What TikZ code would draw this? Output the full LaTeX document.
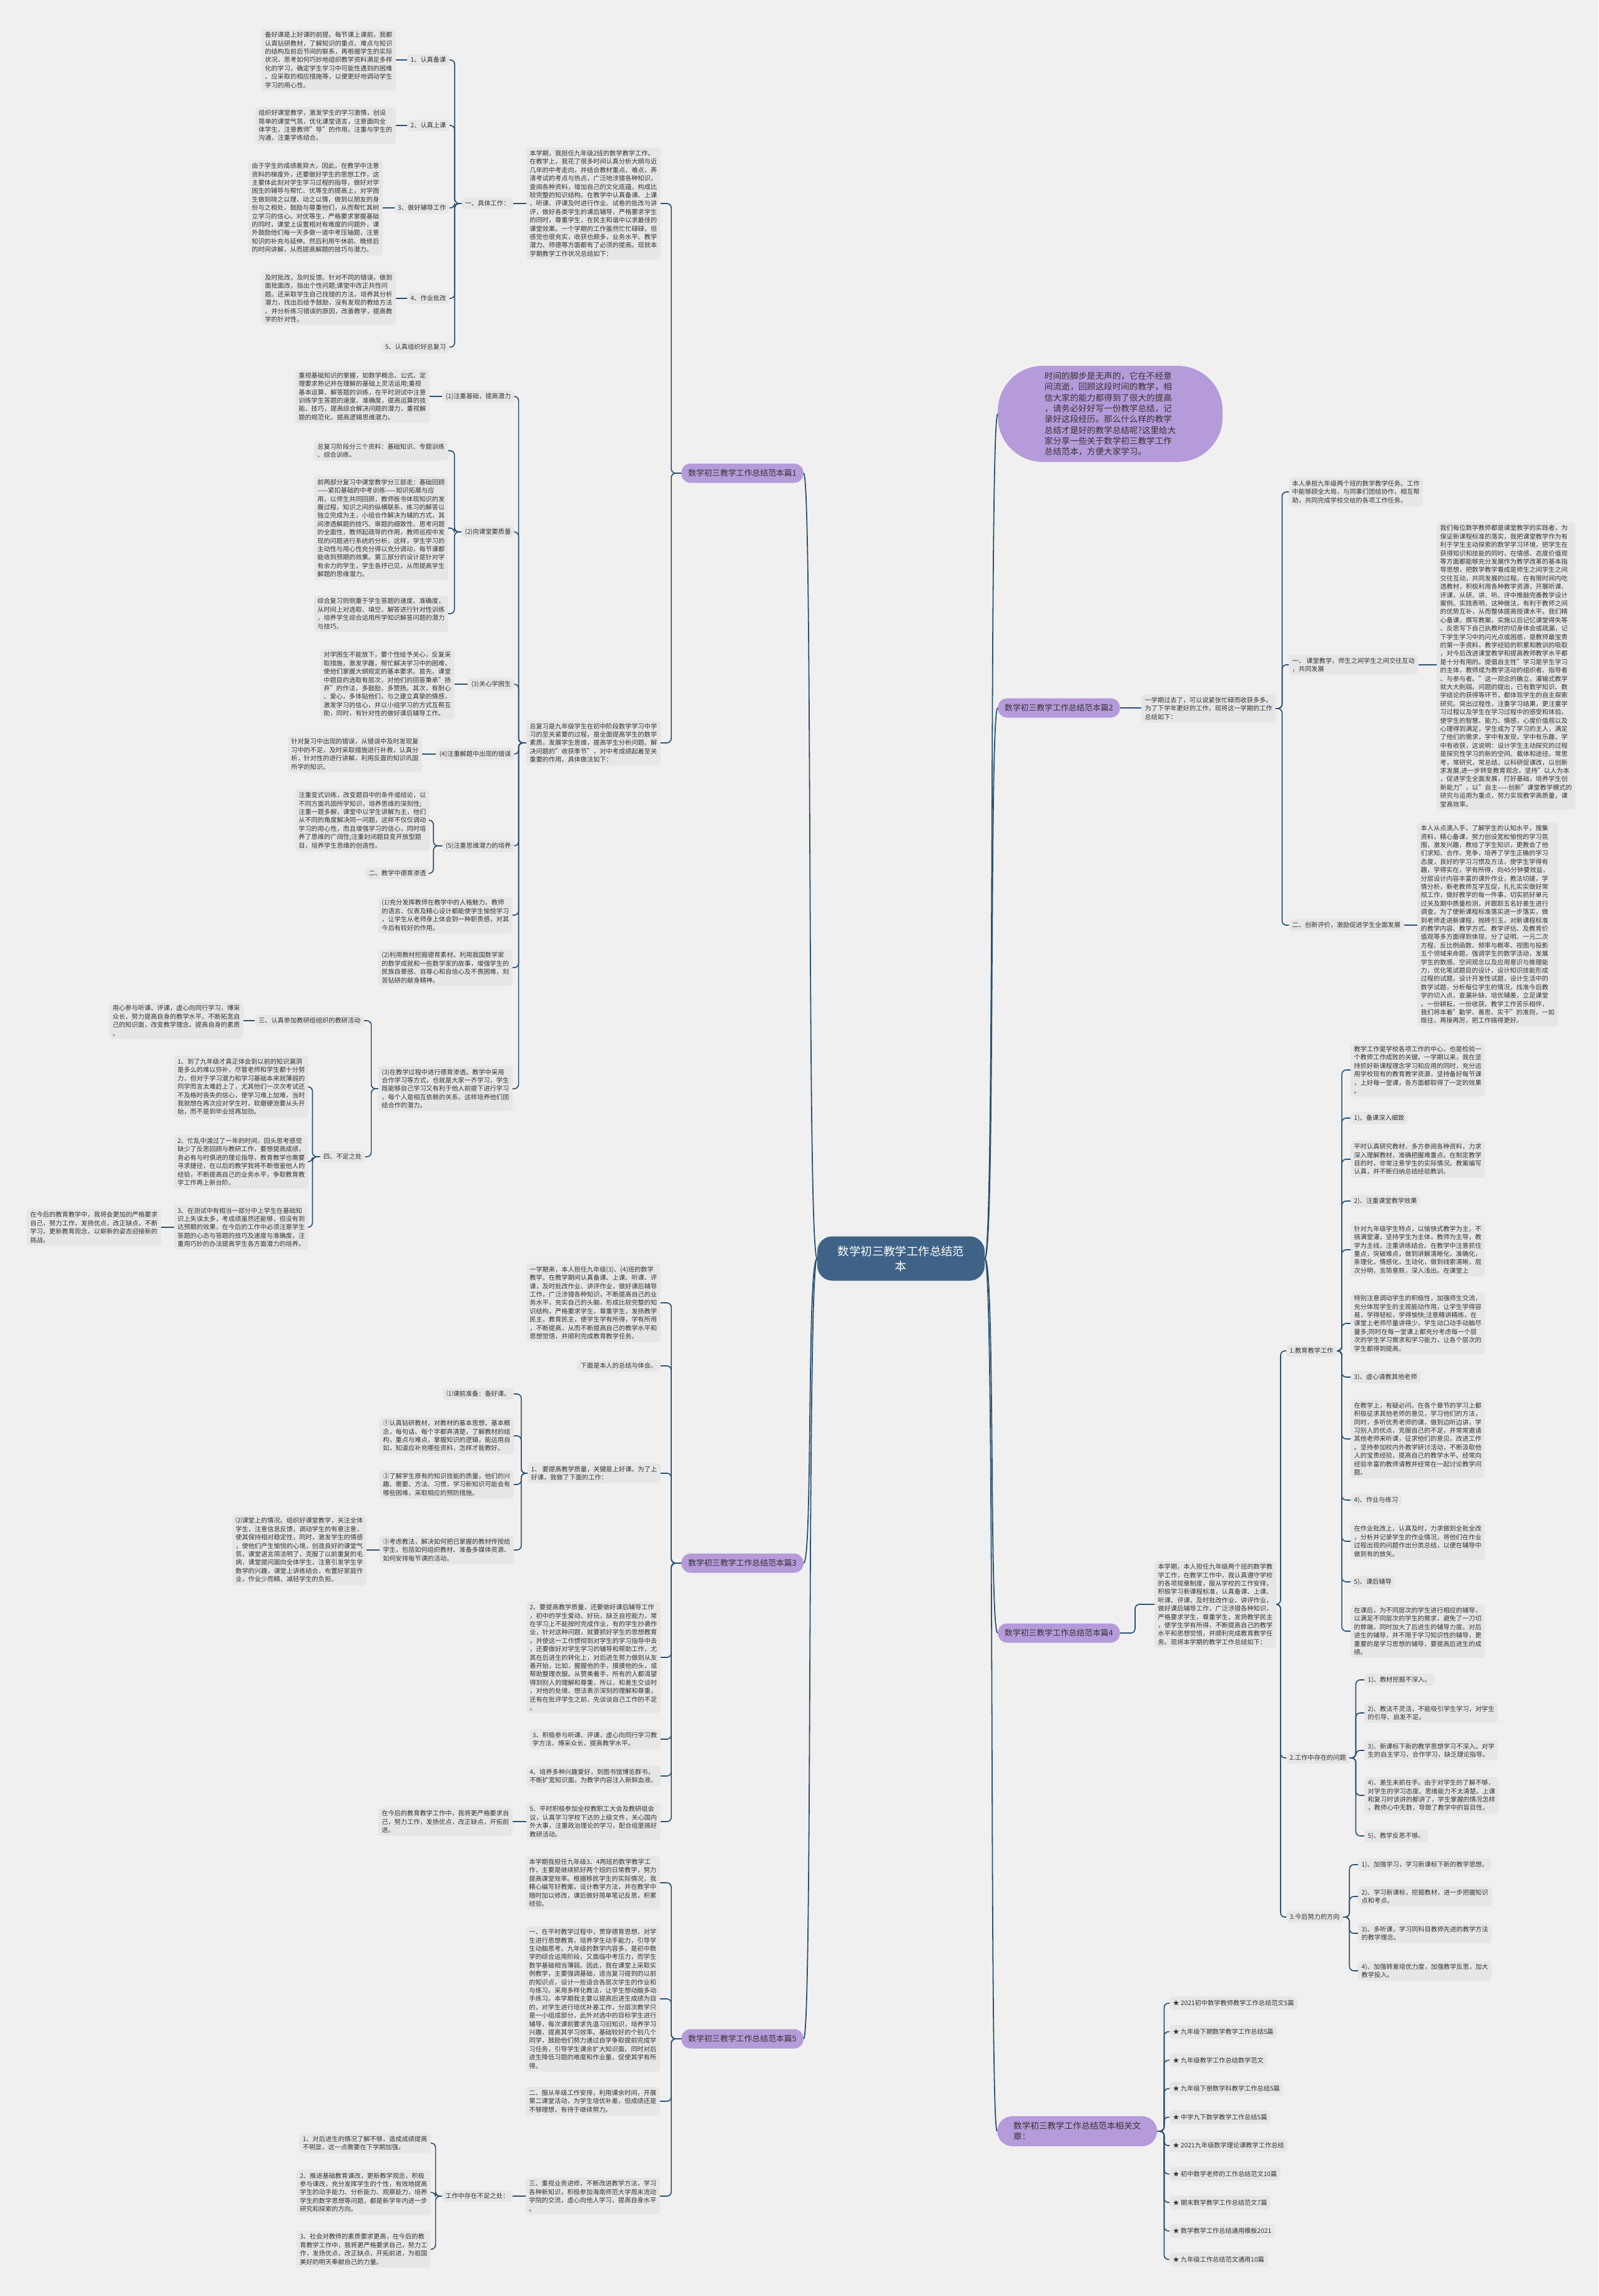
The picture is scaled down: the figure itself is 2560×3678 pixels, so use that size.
\documentclass[tikz,border=0pt]{standalone}
\usepackage{fontspec}
\setmainfont{Noto Sans CJK SC}
\definecolor{bgc}{HTML}{F0F0F0}
\definecolor{boxc}{HTML}{E6E6E6}
\definecolor{txtc}{HTML}{333333}
\definecolor{linec}{HTML}{2B5273}
\definecolor{purc}{HTML}{B59BDA}
\definecolor{rootc}{HTML}{3F6386}
\newcommand\fa{\fontsize{10.2}{13.4}\selectfont}
\newcommand\fb{\fontsize{12.8}{16}\selectfont}
\newcommand\fc{\fontsize{13.6}{17.3}\selectfont}
\newcommand\fr{\fontsize{18.4}{24}\selectfont}
\newcommand\Lcon[3]{\draw[conn] (#1.west) -- ++(-#3,0) |- (#2.east);}
\newcommand\Rcon[3]{\draw[conn] (#1.east) -- ++(#3,0) |- (#2.west);}
\newcommand\Lstr[2]{\draw[conn] (#1.west) -- (#1.west -| #2.east);}
\newcommand\Rstr[2]{\draw[conn] (#1.east) -- (#1.east -| #2.west);}
\begin{document}
\begin{tikzpicture}[x=1pt,y=-1pt,
 box/.style={fill=boxc, rounded corners=5pt, text=txtc, font=\fa, align=left, inner xsep=5.5pt, inner ysep=4.5pt},
 pill/.style={fill=purc, rounded corners=15pt, text=txtc, font=\fb, inner xsep=11pt, minimum height=31pt, align=left},
 conn/.style={draw=linec, line width=1.7pt, rounded corners=7pt},
 mainc/.style={draw=linec, line width=1.8pt}]
\fill[bgc] (0,0) rectangle (2560,3678);
\useasboundingbox (0,0) rectangle (2560,3678);

% ---------------- root ----------------
\node[fill=rootc, text=white, rounded corners=24pt, font=\fr, align=center, minimum width=268pt, minimum height=71pt] (root) at (1443,2016) {数学初三教学工作总结范\\本};

% ---------------- main branches ----------------
\node[pill, anchor=east] (p1) at (1287,758) {数学初三教学工作总结范本篇1};
\node[pill, anchor=east] (p3) at (1287,2504) {数学初三教学工作总结范本篇3};
\node[pill, anchor=east] (p5) at (1287,3266) {数学初三教学工作总结范本篇5};
\node[pill, anchor=west] (p2) at (1598,1134) {数学初三教学工作总结范本篇2};
\node[pill, anchor=west] (p4) at (1598,2616) {数学初三教学工作总结范本篇4};
\node[fill=purc, rounded corners=24pt, text=txtc, font=\fc, align=left, anchor=west, inner xsep=26pt, minimum height=48pt] (rel) at (1597,3414) {数学初三教学工作总结范本相关文\\章：};
\node[fill=purc, rounded corners=72pt, text=txtc, font=\fc, align=left, anchor=west, minimum width=360pt, minimum height=154pt] (intro) at (1598,663) {时间的脚步是无声的，它在不经意\\间流逝，回顾这段时间的教学，相\\信大家的能力都得到了很大的提高\\，请务必好好写一份教学总结，记\\录好这段经历。那么什么样的教学\\总结才是好的教学总结呢?这里给大\\家分享一些关于数学初三教学工作\\总结范本，方便大家学习。};

\draw[mainc] (root.west) .. controls (1292,2016) and (1302,758) .. (p1.east);
\draw[mainc] (root.west) .. controls (1292,2016) and (1302,2504) .. (p3.east);
\draw[mainc] (root.west) .. controls (1292,2016) and (1302,3266) .. (p5.east);
\draw[mainc] (root.east) .. controls (1594,2016) and (1584,663) .. (intro.west);
\draw[mainc] (root.east) .. controls (1594,2016) and (1584,1134) .. (p2.west);
\draw[mainc] (root.east) .. controls (1594,2016) and (1584,2616) .. (p4.west);
\draw[mainc] (root.east) .. controls (1594,2016) and (1584,3414) .. (rel.west);

% ================= 篇1 =================
\node[box, anchor=east] (a1) at (1058,326) {本学期，我担任九年级2班的数学教学工作。\\在教学上，我花了很多时间认真分析大纲与近\\几年的中考走向，并结合教材重点、难点，弄\\清考试的考点与热点，广泛地涉猎各种知识，\\查阅各种资料，增加自己的文化底蕴，构成比\\较完整的知识结构。在教学中认真备课、上课\\、听课、评课及时进行作业、试卷的批改与讲\\评，做好各类学生的课后辅导，严格要求学生\\的同时，尊重学生，在民主和谐中以求最佳的\\课堂效果。一个学期的工作虽然忙忙碌碌，但\\感觉也很充实，收获也颇多，业务水平、教学\\潜力、师德等方面都有了必须的提高。现就本\\学期教学工作状况总结如下：};
\node[box, anchor=east] (a2) at (1058,1190) {总复习是九年级学生在初中阶段数学学习中学\\习的至关紧要的过程，是全面提高学生的数学\\素质，发展学生思维，提高学生分析问题、解\\决问题的"收获季节"，对中考成绩起着至关\\重要的作用。具体做法如下：};
\Lcon{p1}{a1}{16} \Lcon{p1}{a2}{16}

\node[box, anchor=east] (yj) at (822,326) {一、具体工作：};
\Lstr{a1}{yj}
\node[box, anchor=east] (l1) at (720,96) {1、认真备课};
\node[box, anchor=east] (l2) at (720,201) {2、认真上课};
\node[box, anchor=east] (l3) at (720,333) {3、做好辅导工作};
\node[box, anchor=east] (l4) at (720,478) {4、作业批改};
\node[box, anchor=east] (l5) at (720,556) {5、认真组织好总复习};
\Lcon{yj}{l1}{11} \Lcon{yj}{l2}{11} \Lcon{yj}{l3}{11} \Lcon{yj}{l4}{11} \Lcon{yj}{l5}{11}
\node[box, anchor=east] (b1) at (634,96) {备好课是上好课的前提。每节课上课前，我都\\认真钻研教材，了解知识的重点、难点与知识\\的结构及前后节间的联系，再根据学生的实际\\状况，思考如何巧妙地组织教学资料满足多样\\化的学习，确定学生学习中可能性遇到的困难\\、应采取的相应措施等，以便更好地调动学生\\学习的用心性。};
\node[box, anchor=east] (b2) at (634,201) {组织好课堂教学，激发学生的学习激情，创设\\简单的课堂气氛，优化课堂语言，注意面向全\\体学生，注意教师"导"的作用，注重与学生的\\沟通，注重学练结合。};
\node[box, anchor=east] (b3) at (613,333) {由于学生的成绩差异大，因此，在教学中注意\\资料的梯度外，还要做好学生的思想工作，这\\主要体此刻对学生学习过程的指导，做好对学\\困生的辅导与帮忙、优等生的提高上，对学困\\生做到晓之以理，动之以情，做到以朋友的身\\份与之相处，鼓励与尊重他们，从而帮忙其树\\立学习的信心。对优等生，严格要求掌握基础\\的同时，课堂上设置相对有难度的问题外，课\\外鼓励他们每一天多做一道中考压轴题，注意\\知识的补充与延伸。然后利用午休前、晚修后\\的时间讲解，从而提高解题的技巧与潜力。};
\node[box, anchor=east] (b4) at (634,478) {及时批改，及时反馈。针对不同的错误，做到\\面批面改，指出个性问题;课堂中改正共性问\\题。还采取学生自己找错的方法，培养其分析\\潜力，找出后给予鼓励，没有发现的教给方法\\。并分析练习错误的原因，改善教学，提高教\\学的针对性。};
\Lstr{l1}{b1} \Lstr{l2}{b2} \Lstr{l3}{b3} \Lstr{l4}{b4}

\node[box, anchor=east] (k1) at (824,635) {(1)注重基础，提高潜力};
\node[box, anchor=east] (k2) at (824,852) {(2)向课堂要质量};
\node[box, anchor=east] (k3) at (824,1096) {(3)关心学困生};
\node[box, anchor=east] (k4) at (824,1208) {(4)注重解题中出现的错误};
\node[box, anchor=east] (k5) at (824,1355) {(5)注重思维潜力的培养};
\node[box, anchor=east] (m1) at (821,1466) {(1)充分发挥教师在教学中的人格魅力。教师\\的语言、仪表及精心设计都能使学生愉悦学习\\，让学生从老师身上体会到一种职责感，对其\\今后有较好的作用。};
\node[box, anchor=east] (m2) at (821,1550) {(2)利用教材挖掘德育素材。利用我国数学家\\的数学成就和一些数学家的故事，增强学生的\\民族自豪感、自尊心和自信心及不畏困难，刻\\苦钻研的献身精神。};
\node[box, anchor=east] (m3) at (821,1744) {(3)在教学过程中进行德育渗透。教学中采用\\合作学习等方式，也就是大家一齐学习，学生\\既能够自己学习又有利于他人前提下进行学习\\，每个人是相互依赖的关系，这样培养他们团\\结合作的潜力。};
\Lcon{a2}{k1}{12} \Lcon{a2}{k2}{12} \Lcon{a2}{k3}{12} \Lcon{a2}{k4}{12} \Lcon{a2}{k5}{12}
\Lcon{a2}{m1}{12} \Lcon{a2}{m2}{12} \Lcon{a2}{m3}{12}

\node[box, anchor=east] (c1) at (688,635) {重视基础知识的掌握，如数学概念、公式、定\\理要求熟记并在理解的基础上灵活运用;重视\\基本运算、解答题的训练，在平时测试中注意\\训练学生答题的速度、准确度，提高运算的技\\能、技巧，提高综合解决问题的潜力，重视解\\题的规范化，提高逻辑思维潜力。};
\Lstr{k1}{c1}
\node[box, anchor=east] (c2a) at (718,722) {总复习阶段分三个资料：基础知识、专题训练\\、综合训练。};
\node[box, anchor=east] (c2b) at (718,846) {前两部分复习中课堂教学分三部走：基础回顾\\——紧扣基础的中考训练——知识拓展与应\\用，以师生共同回顾，教师板书体现知识的发\\展过程，知识之间的纵横联系，练习的解答以\\独立完成为主，小组合作解决为辅的方式，其\\间渗透解题的技巧、审题的细致性、思考问题\\的全面性，教师起疏导的作用，教师巡视中发\\现的问题进行系统的分析，这样，学生学习的\\主动性与用心性充分得以充分调动，每节课都\\能收到预期的效果。第三部分的设计是针对学\\有余力的学生，学生各抒已见，从而提高学生\\解题的思维潜力。};
\node[box, anchor=east] (c2c) at (718,983) {综合复习则侧重于学生答题的速度、准确度，\\从时间上对选取、填空、解答进行针对性训练\\，培养学生综合运用所学知识解答问题的潜力\\与技巧。};
\Lcon{k2}{c2a}{11} \Lcon{k2}{c2b}{11} \Lcon{k2}{c2c}{11}
\node[box, anchor=east] (c3) at (728,1096) {对学困生不能放下，要个性给予关心，反复采\\取措施，激发学趣，帮忙解决学习中的困难，\\使他们掌握大纲规定的基本要求。首先，课堂\\中题目的选取有层次，对他们的回答秉承"扬\\弃"的作法，多鼓励，多赞扬。其次，有耐心\\、爱心，多体贴他们，与之建立真挚的情感，\\激发学习的信心，并以小组学习的方式互帮互\\助，同时，有针对性的做好课后辅导工作。};
\Lstr{k3}{c3}
\node[box, anchor=east] (c4) at (676,1208) {针对复习中出现的错误，从错误中及时发现复\\习中的不足，及时采取措施进行补救，认真分\\析，针对性的进行讲解，利用反面的知识巩固\\所学的知识。};
\Lstr{k4}{c4}
\node[box, anchor=east] (c5) at (688,1314) {注重变式训练，改变题目中的条件或结论，以\\不同方面巩固所学知识，培养思维的深刻性;\\注重一题多解，课堂中以学生讲解为主，他们\\从不同的角度解决同一问题，这样不仅仅调动\\学习的用心性，而且增强学习的信心，同时培\\养了思维的广阔性;注重封闭题目变开放型题\\目，培养学生思维的创造性。};
\node[box, anchor=east] (dy) at (688,1399) {二、教学中德育渗透};
\Lcon{k5}{c5}{14} \Lcon{k5}{dy}{14}

\node[box, anchor=east] (n1) at (583,1635) {三、认真参加教研组组织的教研活动};
\node[box, anchor=east] (n2) at (585,1853) {四、不足之处};
\Lcon{m3}{n1}{11} \Lcon{m3}{n2}{11}
\node[box, anchor=east] (n1c) at (390,1635) {用心参与听课、评课，虚心向同行学习，博采\\众长，努力提高自身的教学水平。不断拓宽自\\己的知识面，改变教学理念，提高自身的素质\\。};
\Lstr{n1}{n1c}
\node[box, anchor=east] (d1) at (494,1741) {1、到了九年级才真正体会到以前的知识漏洞\\是多么的难以弥补，尽管老师和学生都十分努\\力，但对于学习潜力和学习基础本来就薄弱的\\同学而言太难赶上了，尤其他们一次次考试还\\不及格时丧失的信心，使学习难上加难，当时\\我就想在再次应对学生时，软磨硬泡要从头开\\始，而不是到毕业班再加劲。};
\node[box, anchor=east] (d2) at (494,1861) {2、忙乱中渡过了一年的时间，回头思考感觉\\缺少了反思回顾与教研工作，要想提高成绩，\\务必有与时俱进的理论指导，教育教学也需要\\寻求捷径，在以后的教学我将不断借鉴他人的\\经验，不断提高自己的业务水平，争取教育教\\学工作再上新台阶。};
\node[box, anchor=east] (d3) at (494,1966) {3、在测试中有相当一部分中上学生在基础知\\识上失误太多，考成绩虽然还能够，但没有到\\达预期的效果，在今后的工作中必须注意学生\\答题的心态与答题的技巧及速度与准确度，注\\重用巧妙的办法提高学生各方面潜力的培养。};
\Lcon{n2}{d1}{12} \Lcon{n2}{d2}{12} \Lcon{n2}{d3}{12}
\node[box, anchor=east] (e1) at (258,1966) {在今后的教育教学中，我将会更加的严格要求\\自己，努力工作，发扬优点，改正缺点，不断\\学习，更新教育观念，以崭新的姿态迎接新的\\挑战。};
\Lstr{d3}{e1}

% ================= 篇3 =================
\node[box, anchor=east] (q1) at (1058,2087) {一学期来，本人担任九年级(3)、(4)班的数学\\教学。在教学期间认真备课、上课、听课、评\\课，及时批改作业、讲评作业，做好课后辅导\\工作，广泛涉猎各种知识，不断提高自己的业\\务水平，充实自己的头脑，形成比较完整的知\\识结构，严格要求学生，尊重学生，发扬教学\\民主，教育民主，使学生学有所得，学有所用\\，不断提高，从而不断提高自己的教学水平和\\思想觉悟，并顺利完成教育教学任务。};
\node[box, anchor=east] (q2) at (1058,2188) {下面是本人的总结与体会。};
\node[box, anchor=east] (q3) at (1058,2360) {1、 要提高教学质量，关键是上好课。为了上\\好课，我做了下面的工作：};
\node[box, anchor=east] (q4) at (1058,2655) {2、要提高教学质量，还要做好课后辅导工作\\，初中的学生爱动、好玩，缺乏自控能力，常\\在学习上不能按时完成作业，有的学生抄袭作\\业，针对这种问题，就要抓好学生的思想教育\\，并使这一工作惯彻到对学生的学习指导中去\\，还要做好对学生学习的辅导和帮助工作，尤\\其在后进生的转化上，对后进生努力做到从友\\善开始，比如，握握他的手，摸摸他的头，或\\帮助整理衣服。从赞美着手，所有的人都渴望\\得到别人的理解和尊重，所以，和差生交谈时\\，对他的处境、想法表示深刻的理解和尊重，\\还有在批评学生之前，先谈谈自己工作的不足\\。};
\node[box, anchor=east] (q5) at (1058,2786) {3、积极参与听课、评课，虚心向同行学习教\\学方法，博采众长，提高教学水平。};
\node[box, anchor=east] (q6) at (1058,2845) {4、培养多种兴趣爱好，到图书馆博览群书，\\不断扩宽知识面，为教学内容注入新鲜血液。};
\node[box, anchor=east] (q7) at (1058,2918) {5、平时积极参加全校教职工大会及教研组会\\议，认真学习学校下达的上级文件，关心国内\\外大事，注重政治理论的学习，配合组里搞好\\教研活动。};
\Lcon{p3}{q1}{16} \Lcon{p3}{q2}{16} \Lcon{p3}{q3}{16} \Lcon{p3}{q4}{16} \Lcon{p3}{q5}{16} \Lcon{p3}{q6}{16} \Lcon{p3}{q7}{16}
\node[box, anchor=east] (s1) at (823,2233) {⑴课前准备：备好课。};
\node[box, anchor=east] (s2) at (823,2300) {①认真钻研教材，对教材的基本思想、基本概\\念，每句话、每个字都弄清楚，了解教材的结\\构，重点与难点，掌握知识的逻辑，能运用自\\如，知道应补充哪些资料，怎样才能教好。};
\node[box, anchor=east] (s3) at (823,2378) {②了解学生原有的知识技能的质量，他们的兴\\趣、需要、方法、习惯，学习新知识可能会有\\哪些困难，采取相应的预防措施。};
\node[box, anchor=east] (s4) at (823,2483) {③考虑教法，解决如何把已掌握的教材传授给\\学生，包括如何组织教材、准备多媒体资源、\\如何安排每节课的活动。};
\Lcon{q3}{s1}{10} \Lcon{q3}{s2}{10} \Lcon{q3}{s3}{10} \Lcon{q3}{s4}{10}
\node[box, anchor=east] (s4c) at (587,2483) {⑵课堂上的情况。组织好课堂教学，关注全体\\学生，注意信息反馈，调动学生的有意注意，\\使其保持相对稳定性，同时，激发学生的情感\\，使他们产生愉悦的心境，创造良好的课堂气\\氛，课堂语言简洁明了，克服了以前重复的毛\\病，课堂提问面向全体学生，注意引发学生学\\数学的兴趣，课堂上讲练结合，布置好家庭作\\业，作业少而精，减轻学生的负担。};
\Lstr{s4}{s4c}
\node[box, anchor=east] (q7c) at (821,2918) {在今后的教育教学工作中，我将更严格要求自\\己，努力工作，发扬优点，改正缺点，开拓前\\进。};
\Lstr{q7}{q7c}

% ================= 篇5 =================
\node[box, anchor=east] (r1) at (1057,3016) {本学期我担任九年级3、4两班的数学教学工\\作，主要是继续抓好两个班的日常教学，努力\\提高课堂效率。根据移民学生的实际情况，我\\精心编写好教案，设计教学方法，并在教学中\\随时加以修改，课后做好简单笔记反思，积累\\经验。};
\node[box, anchor=east] (r2) at (1057,3202) {一、在平时教学过程中，贯穿德育思想，对学\\生进行思想教育，培养学生动手能力，引导学\\生动脑思考。九年级的数学内容多，是初中数\\学的综合运用阶段，又面临中考压力，而学生\\数学基础相当薄弱。因此，我在课堂上采取实\\例教学，主要强调基础，适当复习碰到的以前\\的知识点，设计一些适合各层次学生的作业和\\与练习。采用多样化教法，让学生想动脑多动\\手练习。本学期我主要以提高后进生成绩为目\\的，对学生进行培优补差工作，分层次教学只\\是一小组成部分，此外对选中的目标学生进行\\辅导，每次课前要求先温习旧知识，培养学习\\兴趣，提高其学习效率。基础较好的个别几个\\同学，鼓励他们努力通过自学争取提前完成学\\习任务，引导学生课余扩大知识面。同时对后\\进生降低习题的难度和作业量，促使其学有所\\得。};
\node[box, anchor=east] (r3) at (1057,3366) {二、服从年级工作安排，利用课余时间，开展\\第二课堂活动，为学生培优补差，但成绩还是\\不够理想，有待于继续努力。};
\node[box, anchor=east] (r4) at (1057,3518) {三、重视业务进修，不断改进教学方法，学习\\各种新知识，积极参加海南师范大学周末流动\\学院的交流，虚心向他人学习，提高自身水平\\。};
\Lcon{p5}{r1}{16} \Lcon{p5}{r2}{16} \Lcon{p5}{r3}{16} \Lcon{p5}{r4}{16}
\node[box, anchor=east] (r4c) at (821,3518) {工作中存在不足之处：};
\Lstr{r4}{r4c}
\node[box, anchor=east] (t1) at (690,3433) {1、对后进生的情况了解不够，造成成绩提高\\不明显，这一点需要在下学期加强。};
\node[box, anchor=east] (t2) at (690,3512) {2、推进基础教育课改，更新教学观念，积极\\参与课改，充分发挥学生的个性，有效地提高\\学生的动手能力、分析能力、观察能力，培养\\学生的数学思想等问题，都是新学年内进一步\\研究和探索的方向。};
\node[box, anchor=east] (t3) at (690,3603) {3、社会对教师的素质要求更高，在今后的教\\育教学工作中，我将更严格要求自己，努力工\\作，发扬优点，改正缺点，开拓前进，为祖国\\美好的明天奉献自己的力量。};
\Lcon{r4c}{t1}{10} \Lcon{r4c}{t2}{10} \Lcon{r4c}{t3}{10}

% ================= 篇2 =================
\node[box, anchor=west] (u0) at (1828,1135) {一学期过去了，可以说紧张忙碌而收获多多。\\为了下学年更好的工作，现将这一学期的工作\\总结如下：};
\Rstr{p2}{u0}
\node[box, anchor=west] (u1) at (2064,788) {本人承担九年级两个班的数学教学任务。工作\\中能够顾全大局，与同事们团结协作，相互帮\\助，共同完成学校交给的各项工作任务。};
\node[box, anchor=west] (u2) at (2064,1065) {一、 课堂教学，师生之间学生之间交往互动\\，共同发展};
\node[box, anchor=west] (u3) at (2064,1482) {二、创新评价，激励促进学生全面发展};
\Rcon{u0}{u1}{10} \Rcon{u0}{u2}{10} \Rcon{u0}{u3}{10}
\node[box, anchor=west] (v1) at (2301,1067) {我们每位数学教师都是课堂教学的实践者，为\\保证新课程标准的落实，我把课堂教学作为有\\利于学生主动探索的数学学习环境，把学生在\\获得知识和技能的同时，在情感、态度价值观\\等方面都能够充分发展作为教学改革的基本指\\导思想，把数学教学看成是师生之间学生之间\\交往互动，共同发展的过程。在有限时间内吃\\透教材，积极利用各种教学资源，开展听课、\\评课，从研、讲、听、评中推敲完善教学设计\\案例。实践表明，这种做法，有利于教师之间\\的优势互补，从而整体提高授课水平。我们精\\心备课，撰写教案，实施以后记忆课堂得失等\\、反思写下自己执教时的切身体会或疏漏，记\\下学生学习中的闪光点或困惑，是教师最宝贵\\的第一手资料，教学经验的积累和教训的吸取\\，对今后改进课堂教学和提高教师教学水平都\\是十分有用的。提倡自主性"学习是学生学习\\的主体，教师成为教学活动的组织者、指导者\\、与参与者。"这一观念的确立，灌输式教学\\就大大削弱。问题的提出，已有数学知识、数\\学结论的获得等环节，都体现学生的自主探索\\研究。突出过程性，注重学习结果，更注重学\\习过程以及学生在学习过程中的感受和体验。\\使学生的智慧、能力、情感，心度价值观以及\\心理得到满足，学生成为了学习的主人，满足\\了他们的需求，学中有发现，学中有乐趣，学\\中有收获，这说明：设计学生主动探究的过程\\是探究性学习的新的空间、载体和途径。常思\\考，常研究，常总结，以科研促课改，以创新\\求发展,进一步转变教育观念，坚持"以人为本\\，促进学生全面发展，打好基础，培养学生创\\新能力"，以"自主——创新"课堂教学模式的\\研究与运用为重点，努力实现教学高质量，课\\堂高效率。};
\Rstr{u2}{v1}
\node[box, anchor=west] (v2) at (2270,1481) {本人从点滴入手，了解学生的认知水平，搜集\\资料，精心备课，努力创设宽松愉悦的学习氛\\围，激发兴趣，教给了学生知识，更教会了他\\们求知、合作、竞争，培养了学生正确的学习\\态度，良好的学习习惯及方法，使学生学得有\\趣，学得实在，学有所得，向45分钟要效益，\\分层设计内容丰富的课外作业，教法切磋，学\\情分析，新老教师互学互促，扎扎实实做好常\\规工作，做好教学的每一件事，切实抓好单元\\过关及期中质量检测，并跟踪五名好差生进行\\调查。为了使新课程标准落实进一步落实，做\\到老师走进新课程，抛砖引玉，对新课程标准\\的教学内容、教学方式、教学评估、及教育价\\值观等多方面得到体现，分了证明、一元二次\\方程、反比例函数、频率与概率、视图与投影\\五个领域来命题，强调学生的数学活动，发展\\学生的数感、空间观念以及应用意识与推理能\\力，优化笔试题目的设计，设计知识技能形成\\过程的试题，设计开发性试题，设计生活中的\\数学试题，分析每位学生的情况，找准今后教\\学的切入点，查漏补缺，培优辅差，立足课堂\\。一份耕耘，一份收获。教学工作苦乐相伴，\\我们将本着"勤学、善思、实干"的准则，一如\\既往，再接再厉，把工作搞得更好。};
\Rstr{u3}{v2}

% ================= 篇4 =================
\node[box, anchor=west] (w0) at (1849,2570) {本学期，本人担任九年级两个班的数学教\\学工作，在教学工作中，我认真遵守学校\\的各项规章制度，服从学校的工作安排，\\积极学习新课程标准，认真备课、上课、\\听课、评课，及时批改作业、讲评作业，\\做好课后辅导工作，广泛涉猎各种知识，\\严格要求学生，尊重学生，发扬教学民主\\，使学生学有所得，不断提高自己的教学\\水平和思想觉悟，并顺利完成教育教学任\\务。现将本学期的教学工作总结如下：};
\draw[conn] (p4.east) -- ++(24,0) |- (w0.west);
\node[box, anchor=west] (g1) at (2060,2164) {1.教育教学工作};
\node[box, anchor=west] (g2) at (2060,2816) {2.工作中存在的问题};
\node[box, anchor=west] (g3) at (2060,3071) {3.今后努力的方向};
\Rcon{w0}{g1}{7} \Rcon{w0}{g2}{7} \Rcon{w0}{g3}{7}
\node[box, anchor=west] (x1) at (2163,1714) {教学工作是学校各项工作的中心，也是检验一\\个教师工作成败的关键。一学期以来，我在坚\\持抓好新课程理念学习和应用的同时，充分运\\用学校现有的教育教学资源，坚持备好每节课\\，上好每一堂课，各方面都取得了一定的效果\\。};
\node[box, anchor=west] (x2) at (2163,1791) {1)、备课深入细致};
\node[box, anchor=west] (x3) at (2163,1857) {平时认真研究教材，多方参阅各种资料，力求\\深入理解教材，准确把握难重点。在制定教学\\目的时，非常注意学生的实际情况。教案编写\\认真，并不断归纳总结经验教训。};
\node[box, anchor=west] (x4) at (2163,1924) {2)、注重课堂教学效果};
\node[box, anchor=west] (x5) at (2163,2002) {针对九年级学生特点，以愉快式教学为主，不\\搞满堂灌，坚持学生为主体，教师为主导，教\\学为主线，注重讲练结合。在教学中注意抓住\\重点，突破难点，做到讲解清晰化，准确化，\\条理化，情感化，生动化，做到线索清晰，层\\次分明，言简意赅，深入浅出。在课堂上};
\node[box, anchor=west] (x6) at (2163,2120) {特别注意调动学生的积极性，加强师生交流，\\充分体现学生的主观能动作用，让学生学得容\\易，学得轻松，学得愉快;注意精讲精练，在\\课堂上老师尽量讲得少，学生动口动手动脑尽\\量多;同时在每一堂课上都充分考虑每一个层\\次的学生学习需求和学习能力，让各个层次的\\学生都得到提高。};
\node[box, anchor=west] (x7) at (2163,2206) {3)、虚心请教其他老师};
\node[box, anchor=west] (x8) at (2163,2305) {在教学上，有疑必问。在各个章节的学习上都\\积极征求其他老师的意见，学习他们的方法，\\同时，多听优秀老师的课，做到边听边讲，学\\习别人的优点，克服自己的不足，并常常邀请\\其他老师来听课，征求他们的意见，改进工作\\。坚持参加校内外教学研讨活动，不断汲取他\\人的宝贵经验，提高自己的教学水平。经常向\\经验丰富的教师请教并经常在一起讨论教学问\\题。};
\node[box, anchor=west] (x9) at (2163,2403) {4)、作业与练习};
\node[box, anchor=west] (x10) at (2163,2469) {在作业批改上，认真及时，力求做到全批全改\\，分析并记录学生的作业情况，将他们在作业\\过程出现的问题作出分类总结，以便在辅导中\\做到有的放矢。};
\node[box, anchor=west] (x11) at (2163,2534) {5)、课后辅导};
\node[box, anchor=west] (x12) at (2163,2613) {在课后，为不同层次的学生进行相应的辅导，\\以满足不同层次的学生的需求，避免了一刀切\\的弊端，同时加大了后进生的辅导力度。对后\\进生的辅导，并不限于学习知识性的辅导，更\\重要的是学习思想的辅导，要提高后进生的成\\绩。};
\foreach \i in {1,...,12} {\Rcon{g1}{x\i}{8}}
\node[box, anchor=west] (y1) at (2185,2691) {1)、教材挖掘不深入。};
\node[box, anchor=west] (y2) at (2185,2744) {2)、教法不灵活，不能吸引学生学习，对学生\\的引导、启发不足。};
\node[box, anchor=west] (y3) at (2185,2804) {3)、新课标下新的教学思想学习不深入。对学\\生的自主学习，合作学习，缺乏理论指导。};
\node[box, anchor=west] (y4) at (2185,2876) {4)、差生未抓在手。由于对学生的了解不够，\\对学生的学习态度、思维能力不太清楚。上课\\和复习时该讲的都讲了，学生掌握的情况怎样\\，教师心中无数，导致了教学中的盲目性。};
\node[box, anchor=west] (y5) at (2185,2941) {5)、教学反思不够。};
\foreach \i in {1,...,5} {\Rcon{g2}{y\i}{10}}
\node[box, anchor=west] (z1) at (2175,2987) {1)、加强学习，学习新课标下新的教学思想。};
\node[box, anchor=west] (z2) at (2175,3038) {2)、学习新课标，挖掘教材，进一步把握知识\\点和考点。};
\node[box, anchor=west] (z3) at (2175,3097) {3)、多听课，学习同科目教师先进的教学方法\\的教学理念。};
\node[box, anchor=west] (z4) at (2175,3157) {4)、加强转差培优力度，加强教学反思，加大\\教学投入。};
\foreach \i in {1,...,4} {\Rcon{g3}{z\i}{10}}

% ================= 相关文章 =================
\foreach \t [count=\i] in {2021初中数学教师教学工作总结范文5篇,九年级下期数学教学工作总结5篇,九年级教学工作总结数学范文,九年级下册数学科教学工作总结5篇,中学九下数学教学工作总结5篇,2021九年级数学理论课教学工作总结,初中数学老师的工作总结范文10篇,期末数学教学工作总结范文7篇,数学教学工作总结通用模板2021,九年级工作总结范文通用10篇} {
 \node[box, anchor=west, inner ysep=6pt] (h\i) at (1873,{3209+45.6*(\i-1)}) {★ \t};
 \Rcon{rel}{h\i}{11}
}
\end{tikzpicture}
\end{document}
